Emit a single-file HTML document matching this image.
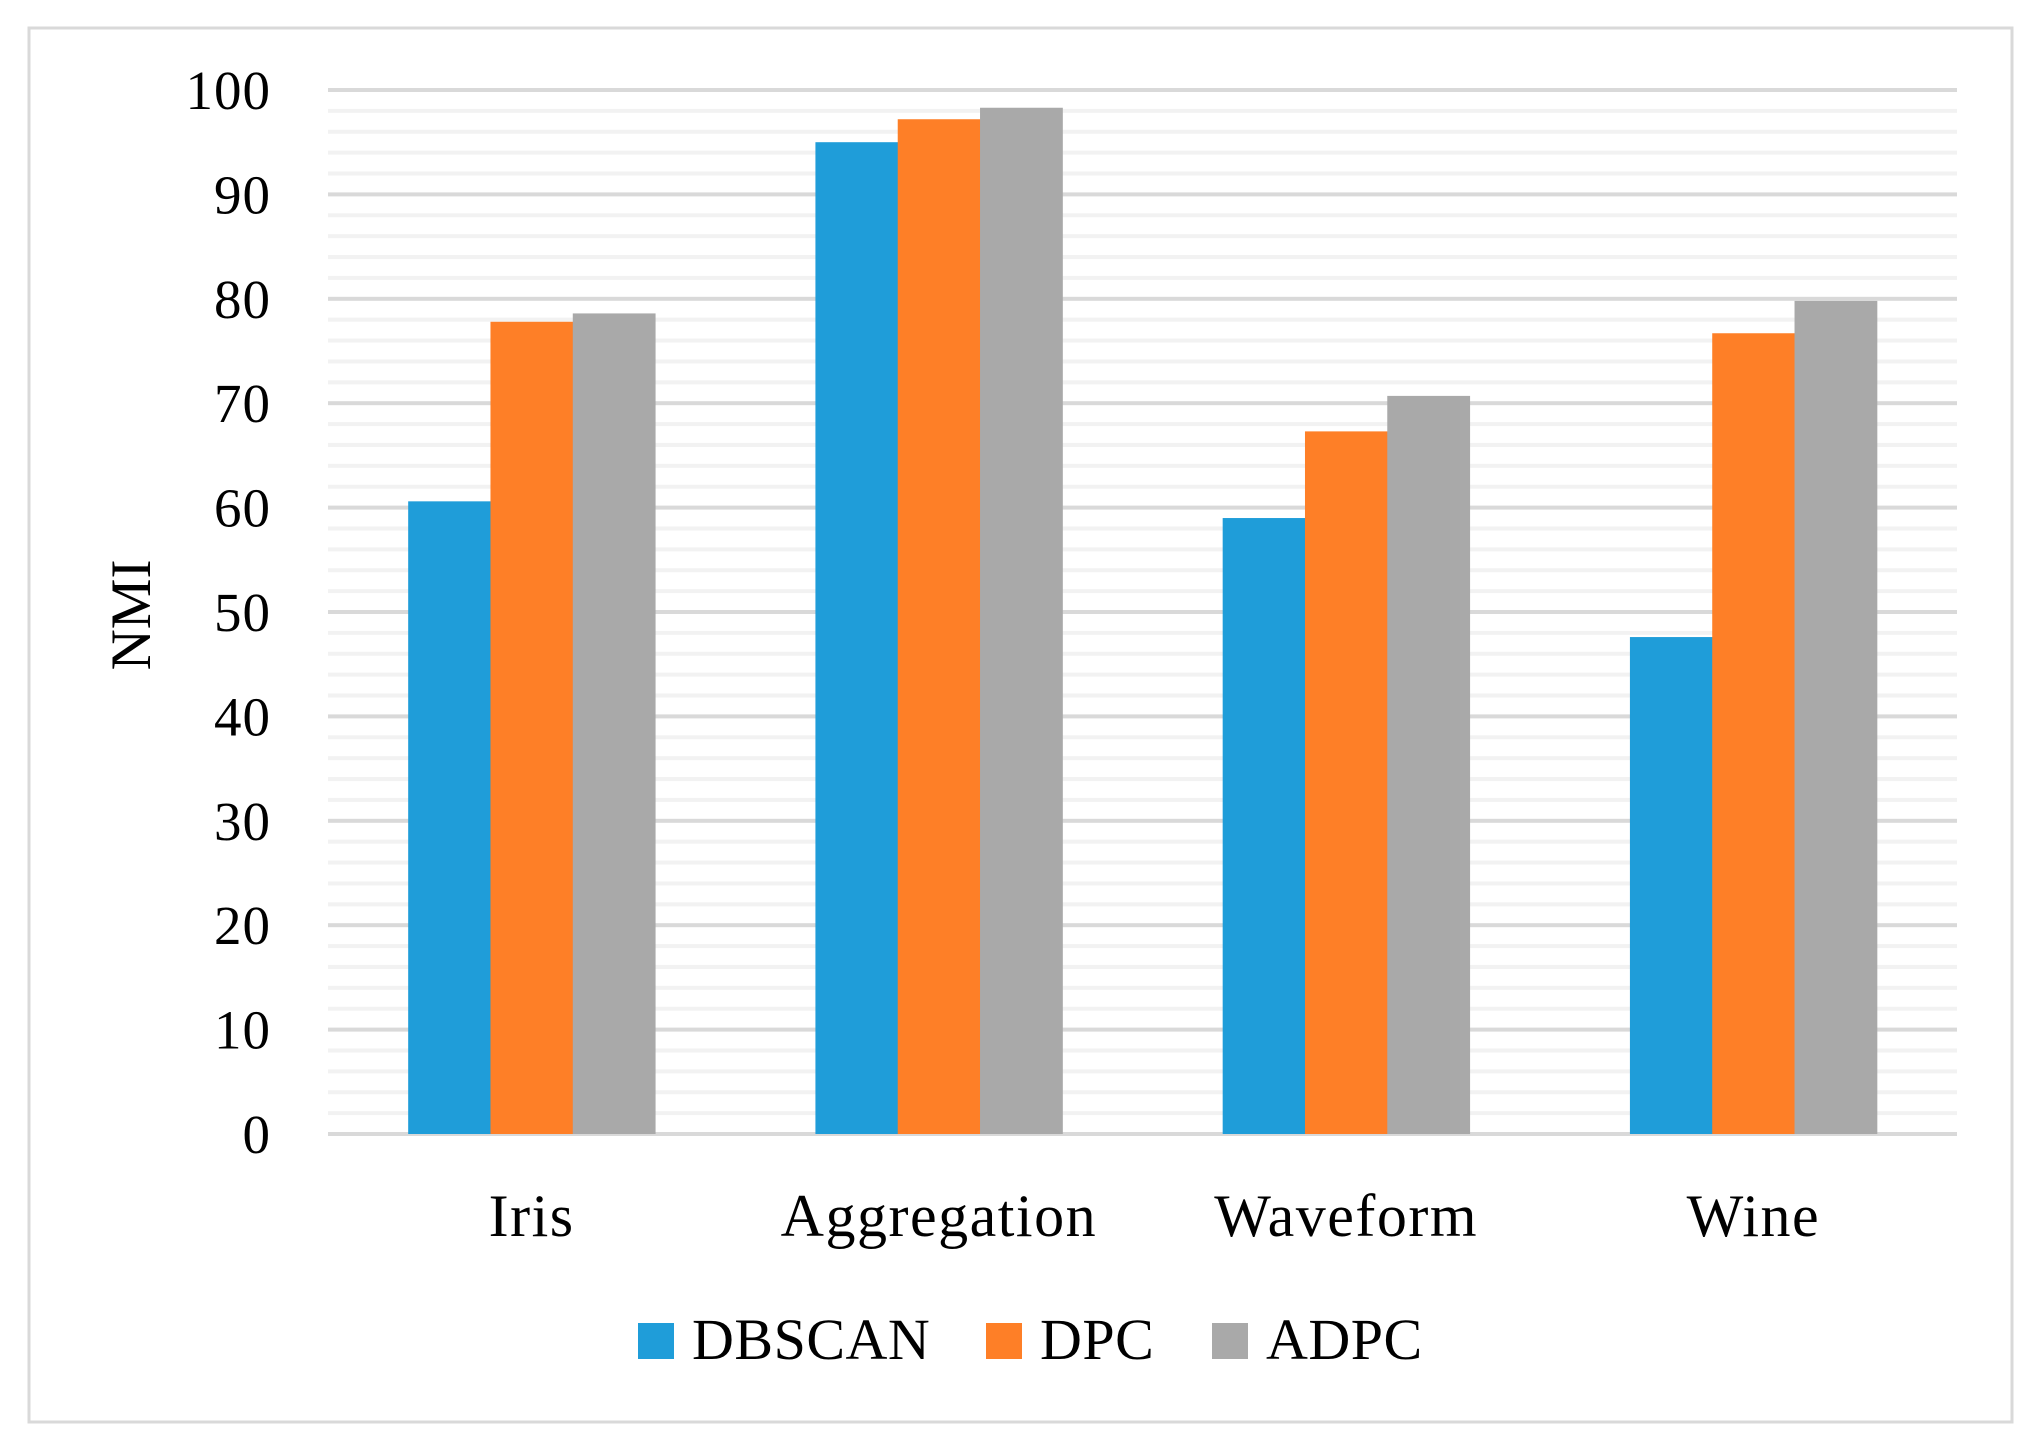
<!DOCTYPE html>
<html><head><meta charset="utf-8"><style>
html,body{margin:0;padding:0;background:#fff;}
svg{display:block;font-family:"Liberation Serif",serif;}
</style></head><body>
<svg id="chart" width="2039" height="1444" viewBox="0 0 2039 1444" xmlns="http://www.w3.org/2000/svg">
<rect x="29" y="28" width="1983" height="1394" fill="#fff" stroke="#d9d9d9" stroke-width="3"/>
<g id="grid"></g><g id="bars"></g><g id="yticks"></g><g id="xlabels"></g>
<text transform="translate(150,615) rotate(-90)" text-anchor="middle" font-size="57" fill="#000">NMI</text>
<g id="legend"></g>
</svg>
<script>
const categories = ["Iris","Aggregation","Waveform","Wine"];
const seriesNames = ["DBSCAN","DPC","ADPC"];
const dbscan = [60.6, 95.0, 59.0, 47.6];
const dpc = [77.8, 97.2, 67.3, 76.7];
const adpc = [78.6, 98.3, 70.7, 79.8];
const yTicks = [0,10,20,30,40,50,60,70,80,90,100];
const colors = ["#1f9dd9","#fe7f27","#a9a9a9"];
const NS="http://www.w3.org/2000/svg";
const L=328,R=1957,T=90,B=1134,yMax=100;
const y=v=>B-(v/yMax)*(B-T);
const catW=(R-L)/categories.length, barW=82.3;
function mk(t,a,p){const e=document.createElementNS(NS,t);for(const k in a)e.setAttribute(k,a[k]);p.appendChild(e);return e;}
const grid=document.getElementById('grid');
for(let v=0;v<=yMax;v+=2){
  const major=v%10===0;
  const ln=mk('rect',{x:L,y:y(v)-2,width:R-L,height:4,fill:major?'#d9d9d9':'#f2f2f2'},grid);
  
  
}
const yt=document.getElementById('yticks');
yTicks.forEach(v=>{const t=mk('text',{x:271,y:y(v)+19,'text-anchor':'end','font-size':55,'letter-spacing':1},yt);t.textContent=v;

});
const series=[dbscan,dpc,adpc];
const bars=document.getElementById('bars');
categories.forEach((c,i)=>{
  const cx=L+catW*(i+0.5);
  series.forEach((s,j)=>{
    const x0=cx-1.5*barW+j*barW;
    const r=mk('rect',{x:x0,y:y(s[i]),width:barW+0.5,height:B-y(s[i]),fill:colors[j]},bars);
    
    
  });
  const t=mk('text',{x:cx,y:1236,'text-anchor':'middle','font-size':60,'letter-spacing':1.5},document.getElementById('xlabels'));
  t.textContent=c;
  
  
});
const axis=mk('rect',{x:L,y:B-2,width:R-L,height:4,fill:'#d9d9d9'},grid);


const lg=document.getElementById('legend');
const legX=[638,986,1212];
seriesNames.forEach((n,j)=>{
  const sq=mk('rect',{x:legX[j],y:1323,width:36,height:36,fill:colors[j]},lg);
  
  
  const t=mk('text',{x:legX[j]+54,y:1359,'font-size':58,'letter-spacing':0.5},lg);
  t.textContent=n;
  
  
});
</script>
</body></html>
